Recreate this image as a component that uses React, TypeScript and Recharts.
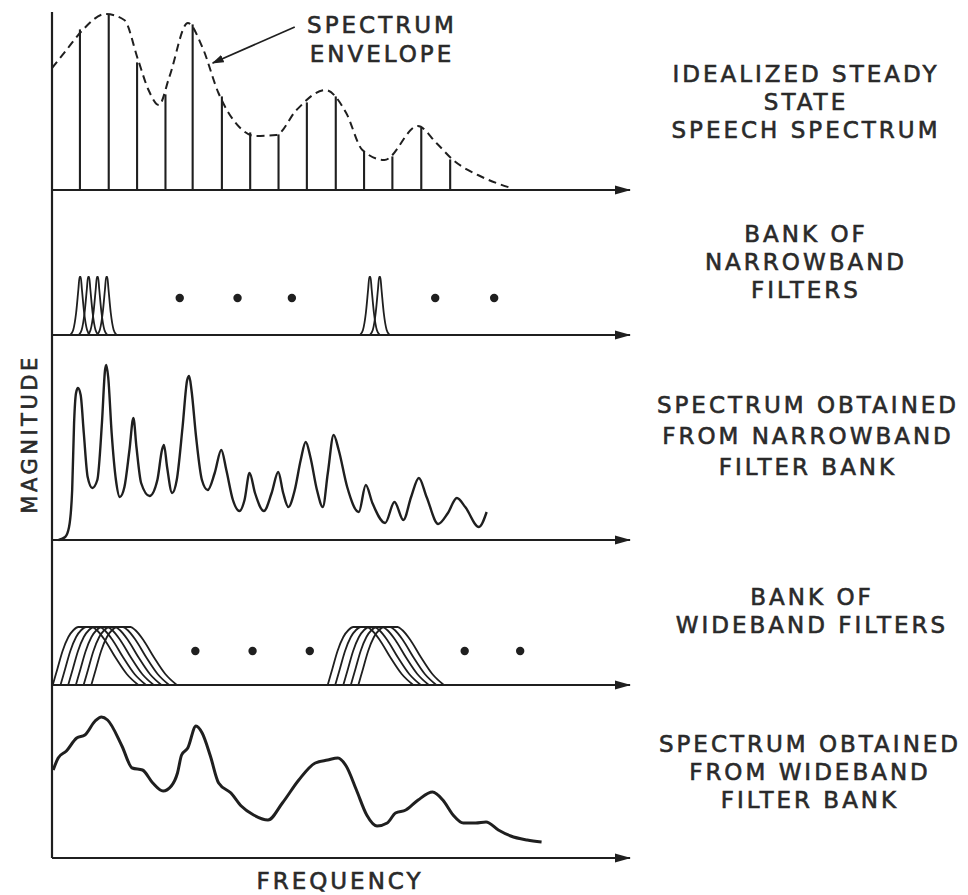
import React from 'react';
import { ComposedChart, Line, Bar, Scatter, XAxis, YAxis, ReferenceLine } from 'recharts';

// ---------- DATA (frequency: 0..100 along the axis, magnitude: arbitrary units) ----------
const HARMONIC_FREQS = [4.84, 9.82, 14.73, 19.64, 24.34, 29.4, 34.3, 39.2, 44.1, 49.1, 54.0, 58.9, 63.9, 68.9];
const HARMONIC_LEVELS = [160, 175, 127, 95, 165, 93, 57, 55, 87, 93, 38, 33, 62, 30];

const ENVELOPE: [number, number][] = [
  [0, 122], [2.5, 140], [5.3, 160], [9.25, 176], [12.5, 170], [14.9, 130], [16.7, 100], [18.5, 85],
  [20.3, 113], [23.5, 167], [26.0, 143], [28.8, 97], [32.4, 63], [35.2, 54], [38.8, 55], [42.3, 80],
  [47.3, 100], [50.9, 77], [53.7, 40], [57.5, 30], [63.3, 64], [66.5, 47], [69.4, 30], [74.4, 13], [79.4, 2],
];
const ENVELOPE_POINTER: [number, number][] = [[42.0, 163], [27.8, 127]];

const NARROW_SHAPE: [number, number][] = [
  [-1.7, 0], [-1.2, 5], [-0.7, 22], [-0.3, 46], [-0.1, 58], [0.1, 58], [0.3, 46], [0.7, 22], [1.2, 5], [1.7, 0],
];
const NARROW_CENTERS = [4.87, 6.33, 7.87, 9.47, 55.0, 56.7];
const NARROW_DOTS: [number, number][] = [[22.1, 37], [32.1, 37], [41.5, 37], [66.3, 37], [76.5, 37]];

const NARROW_SPECTRUM: [number, number][] = [
  [1.14, 0], [2.28, 3], [2.95, 13], [3.49, 50], [3.82, 117], [4.16, 147], [4.49, 152], [4.96, 145], [5.5, 107],
  [6.17, 63], [6.97, 52], [7.84, 60], [8.64, 117], [9.18, 170], [9.38, 175], [9.72, 163], [10.32, 107],
  [11.06, 60], [11.73, 43], [12.53, 53], [13.4, 90], [14.08, 122], [14.61, 93], [15.42, 57], [16.89, 44],
  [18.23, 60], [19.03, 90], [19.37, 95], [19.91, 73], [20.78, 47], [21.58, 60], [22.59, 113], [23.39, 160],
  [23.73, 164], [24.13, 150], [24.93, 103], [25.94, 60], [26.94, 50], [28.15, 67], [29.29, 90], [30.16, 70],
  [31.3, 40], [32.44, 29], [33.31, 40], [34.18, 67], [35.12, 47], [36.66, 29], [38.0, 47], [39.14, 68],
  [40.0, 47], [40.88, 33], [42.0, 50], [43.03, 80], [43.9, 98], [44.7, 83], [45.84, 50], [46.85, 33],
  [47.72, 67], [48.73, 105], [49.6, 90], [51.07, 53], [53.08, 28], [54.29, 55], [55.43, 37], [57.64, 17],
  [59.25, 38], [60.79, 20], [62.13, 43], [63.47, 62], [64.81, 43], [66.82, 16], [68.5, 27], [70.04, 42],
  [71.5, 33], [73.86, 13], [75.2, 28],
];

const WIDE_SHAPE: [number, number][] = [
  [0, 0], [0.8, 16], [1.7, 34], [2.7, 48], [3.6, 55], [4.4, 58], [6.8, 58], [7.6, 55], [9.0, 45],
  [10.8, 28], [12.8, 11], [14.8, 0],
];
const WIDE_STARTS = [0.13, 1.47, 2.8, 4.13, 5.47, 6.8, 47.7, 49.0, 50.4, 51.7, 53.0];
const WIDE_DOTS: [number, number][] = [[24.8, 34], [34.7, 34], [44.6, 34], [71.4, 34], [81.0, 34]];

const WIDE_SPECTRUM: [number, number][] = [
  [0.21, 88], [1.07, 100], [2.49, 107], [4.27, 120], [5.69, 123], [7.47, 137], [8.54, 141], [9.61, 138],
  [12.1, 112], [13.88, 90], [15.66, 88], [17.44, 75], [19.22, 67], [20.64, 72], [21.71, 85], [22.42, 103],
  [23.49, 110], [24.91, 132], [25.98, 125], [27.4, 102], [28.83, 75], [30.96, 65], [32.74, 52], [34.88, 43],
  [37.37, 38], [39.86, 55], [42.7, 78], [45.55, 95], [47.69, 98], [49.47, 100], [50.89, 92], [52.67, 68],
  [54.45, 43], [56.23, 32], [58.0, 35], [59.43, 45], [61.21, 48], [63.35, 58], [65.84, 66], [67.62, 58],
  [69.4, 43], [71.17, 35], [73.31, 35], [75.09, 36], [77.22, 28], [79.36, 22], [82.21, 18], [84.7, 16],
];

const PANEL_LABELS = [
  ['IDEALIZED STEADY', 'STATE', 'SPEECH SPECTRUM'],
  ['BANK OF', 'NARROWBAND', 'FILTERS'],
  ['SPECTRUM OBTAINED', 'FROM NARROWBAND', 'FILTER BANK'],
  ['BANK OF', 'WIDEBAND FILTERS'],
  ['SPECTRUM OBTAINED', 'FROM WIDEBAND', 'FILTER BANK'],
];
const ENVELOPE_LABEL = ['SPECTRUM', 'ENVELOPE'];
const Y_LABEL = 'MAGNITUDE';
const X_LABEL = 'FREQUENCY';

// ---------- LAYOUT / STYLE ----------
const INK = '#1f1f1f';
const TEXT_INK = '#2a2a2a';
const AXIS_X = 52;
const CHART_W = 640;
const PAD = 8;
const PANELS = [
  { top: 12, height: 178, yMax: 178 },
  { top: 190, height: 145, yMax: 145 },
  { top: 335, height: 205, yMax: 205 },
  { top: 540, height: 145, yMax: 145 },
  { top: 685, height: 173, yMax: 173 },
];
const LABEL_LAYOUT = [
  { x: 806, y: 82, step: 28 },
  { x: 806, y: 242, step: 28 },
  { x: 808, y: 413, step: 31 },
  { x: 812, y: 605, step: 28 },
  { x: 810, y: 752, step: 28 },
];
const FONT = { fontFamily: '"DejaVu Sans", sans-serif', fontSize: 23, letterSpacing: 3 };

const toPts = (pairs: [number, number][]) => pairs.map(([f, h]) => ({ f, h }));
const shifted = (shape: [number, number][], at: number) => shape.map(([df, h]) => ({ f: at + df, h }));

const harmonicData = HARMONIC_FREQS.map((f, i) => ({ f, h: HARMONIC_LEVELS[i] }));

function Panel({ idx, data, children }: { idx: number; data?: any[]; children: React.ReactNode }) {
  const p = PANELS[idx];
  return (
    <div style={{ position: 'absolute', left: 0, top: p.top }}>
      <ComposedChart
        width={CHART_W}
        height={p.height + PAD}
        data={data}
        margin={{ top: 0, right: 10, bottom: PAD - 1, left: AXIS_X - 1 }}
        style={{ overflow: 'visible' }}
      >
        <XAxis
          type="number"
          dataKey="f"
          domain={[0, 100]}
          height={1}
          tick={false}
          tickLine={false}
          axisLine={{ stroke: INK, strokeWidth: 2.2, markerEnd: 'url(#axisArrow)' } as any}
        />
        <YAxis
          type="number"
          domain={[0, p.yMax]}
          width={1}
          tick={false}
          tickLine={false}
          axisLine={{ stroke: INK, strokeWidth: 2.2 }}
        />
        {children}
      </ComposedChart>
    </div>
  );
}

const dotShape = (props: any) => <circle cx={props.cx} cy={props.cy} r={4.2} fill={INK} />;

export default function App() {
  return (
    <div style={{ position: 'absolute', left: 0, top: 0, width: 968, height: 895, background: '#fff' }}>
      <svg width={0} height={0} style={{ position: 'absolute' }}>
        <defs>
          <marker id="axisArrow" markerUnits="userSpaceOnUse" markerWidth={16} markerHeight={10} refX={15} refY={5} orient="auto">
            <path d="M0,0.5 L16,5 L0,9.5 Z" fill={INK} />
          </marker>
          <marker id="pointerArrow" markerUnits="userSpaceOnUse" markerWidth={12} markerHeight={8} refX={11} refY={4} orient="auto">
            <path d="M0,0 L12,4 L0,8 Z" fill={INK} />
          </marker>
        </defs>
      </svg>

      {/* Panel 1: idealized spectrum */}
      <Panel idx={0} data={harmonicData}>
        <Bar dataKey="h" barSize={2} fill={INK} stroke={INK} strokeWidth={1.2} isAnimationActive={false} />
        <Line
          data={toPts(ENVELOPE)}
          dataKey="h"
          type="monotone"
          stroke={INK}
          strokeWidth={2}
          strokeDasharray="8 5"
          dot={false}
          isAnimationActive={false}
        />
        <ReferenceLine
          segment={[{ x: ENVELOPE_POINTER[0][0], y: ENVELOPE_POINTER[0][1] }, { x: ENVELOPE_POINTER[1][0], y: ENVELOPE_POINTER[1][1] }]}
          stroke={INK}
          strokeWidth={1.8}
          ifOverflow="visible"
          {...({ markerEnd: 'url(#pointerArrow)' } as any)}
        />
      </Panel>

      {/* Panel 2: narrowband filters */}
      <Panel idx={1}>
        {NARROW_CENTERS.map((c, i) => (
          <Line
            key={'n' + i}
            data={shifted(NARROW_SHAPE, c)}
            dataKey="h"
            type="monotone"
            stroke={INK}
            strokeWidth={1.8}
            dot={false}
            isAnimationActive={false}
          />
        ))}
        <Scatter data={toPts(NARROW_DOTS)} dataKey="h" shape={dotShape} isAnimationActive={false} />
      </Panel>

      {/* Panel 3: narrowband spectrum */}
      <Panel idx={2}>
        <Line
          data={toPts(NARROW_SPECTRUM)}
          dataKey="h"
          type="monotone"
          stroke={INK}
          strokeWidth={2.4}
          dot={false}
          isAnimationActive={false}
        />
      </Panel>

      {/* Panel 4: wideband filters */}
      <Panel idx={3}>
        {WIDE_STARTS.map((s, i) => (
          <Line
            key={'w' + i}
            data={shifted(WIDE_SHAPE, s)}
            dataKey="h"
            type="monotone"
            stroke={INK}
            strokeWidth={1.8}
            dot={false}
            isAnimationActive={false}
          />
        ))}
        <Scatter data={toPts(WIDE_DOTS)} dataKey="h" shape={dotShape} isAnimationActive={false} />
      </Panel>

      {/* Panel 5: wideband spectrum */}
      <Panel idx={4}>
        <Line
          data={toPts(WIDE_SPECTRUM)}
          dataKey="h"
          type="monotone"
          stroke={INK}
          strokeWidth={3}
          dot={false}
          isAnimationActive={false}
        />
      </Panel>

      {/* Text */}
      <svg width={968} height={895} style={{ position: 'absolute', left: 0, top: 0, pointerEvents: 'none' }}>
        <g style={FONT as any} fill={TEXT_INK} stroke={TEXT_INK} strokeWidth={0.6}>
          {PANEL_LABELS.map((lines, i) =>
            lines.map((t, j) => (
              <text key={i + '-' + j} x={LABEL_LAYOUT[i].x} y={LABEL_LAYOUT[i].y + j * LABEL_LAYOUT[i].step} textAnchor="middle">
                {t}
              </text>
            ))
          )}
          {ENVELOPE_LABEL.map((t, j) => (
            <text key={'e' + j} x={382} y={33 + j * 29} textAnchor="middle">{t}</text>
          ))}
          <text x={340} y={889} textAnchor="middle">{X_LABEL}</text>
          <text transform="translate(37,434) rotate(-90)" x={0} y={0} textAnchor="middle" style={{ fontSize: 21, letterSpacing: 3.5 }}>
            {Y_LABEL}
          </text>
        </g>
      </svg>
    </div>
  );
}
